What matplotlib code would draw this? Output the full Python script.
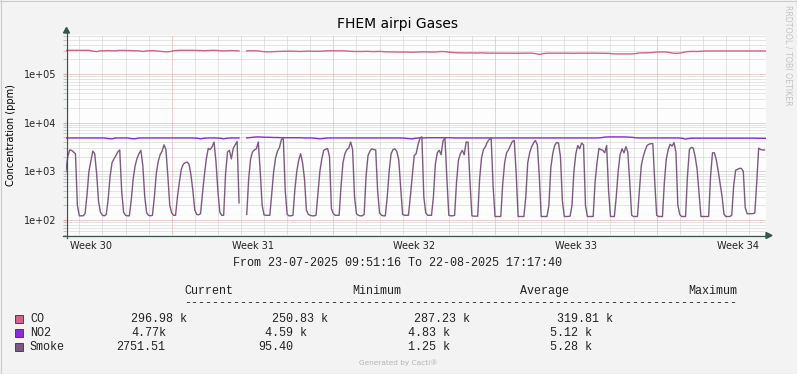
import datetime as dt
import numpy as np
import pandas as pd
import matplotlib
matplotlib.use('Agg')
import matplotlib.pyplot as plt
from matplotlib.lines import Line2D
from matplotlib.patches import Polygon, Rectangle

nan = np.nan

# --- data --------------------------------------------------------------
# Smoke (ppm), 2h samples, one row per day (first day from 10:00, last day to 16:00)
smoke_rows = [
    [980, 2000, 2750, 2700, 2500, 2300, 200],
    [122, 122, 122, 135, 330, 1000, 1600, 2600, 2300, 900, 240, 145],
    [125, 122, 130, 270, 800, 1500, 1800, 2100, 2500, 2750, 400, 145],
    [125, 122, 122, 260, 700, 1300, 1850, 2300, 2700, 1300, 300, 140],
    [125, 122, 125, 300, 900, 1600, 2200, 2600, 3500, 2800, 800, 200],
    [140, 125, 125, 300, 600, 1100, 1400, 1500, 1550, 1400, 850, 400],
    [160, 130, 128, 135, 350, 850, 1800, 2950, 2800, 3200, 4000, 1600],
    [400, 145, 125, 125, 900, 2500, 2700, 1800, 3000, 3500, 4100, 225],
    [nan, nan, nan, 130, 700, 1800, 2500, 2750, 2900, 4000, 1000, 200],
    [127, 125, 125, 125, 350, 1000, 1900, 2600, 3100, 4500, 4700, 400],
    [130, 122, 122, 125, 420, 1000, 1700, 2300, 1500, 700, 160, 130],
    [125, 122, 122, 125, 350, 1000, 1800, 2700, 2850, 2950, 2000, 170],
    [135, 125, 125, 125, 500, 1500, 2300, 2800, 3000, 4000, 2800, 300],
    [135, 125, 122, 122, 130, 800, 2100, 2600, 2900, 2800, 2750, 400],
    [140, 125, 122, 122, 300, 1000, 2300, 2800, 2900, 2550, 1700, 450],
    [130, 125, 125, 125, 300, 800, 2100, 2300, 3500, 4800, 5100, 300],
    [140, 125, 125, 125, 300, 1400, 2400, 2700, 2200, 4300, 4800, 700],
    [125, 122, 122, 125, 600, 1700, 2300, 2700, 2200, 4000, 4000, 600],
    [122, 120, 120, 120, 700, 1900, 2800, 3200, 4000, 4500, 4800, 500],
    [118, 118, 118, 118, 550, 1500, 2400, 2750, 3400, 4100, 4300, 900],
    [118, 118, 118, 118, 300, 1500, 2400, 3200, 3800, 4300, 3500, 800],
    [118, 118, 118, 118, 200, 1200, 2300, 3400, 3900, 3800, 2000, 250],
    [118, 118, 118, 120, 200, 1000, 2300, 3400, 2900, 3800, 3500, 200],
    [118, 118, 118, 118, 600, 1500, 2950, 2800, 2700, 2400, 3400, 400],
    [118, 118, 118, 300, 1000, 2200, 2900, 2400, 3200, 2500, 600, 125],
    [118, 118, 118, 400, 1300, 2000, 2700, 3400, 3600, 3700, 3700, 600],
    [125, 118, 118, 118, 600, 1800, 2800, 3600, 3300, 3900, 2500, 200],
    [130, 118, 118, 118, 800, 2800, 3100, 3000, 2000, 1100, 350, 118],
    [118, 118, 118, 118, 800, 2400, 2400, 1700, 1000, 550, 300, 130],
    [118, 118, 118, 125, 500, 1050, 1100, 1150, 1150, 1000, 180, 135],
    [135, 135, 135, 140, 600, 3000, 2800, 2750, 2750],
]

# CO (k ppm), 4h samples
co_rows = [
    [306, 306, 306, 305],
    [306, 306, 306, 295, 288, 300],
    [300, 302, 300, 300, 305, 305],
    [303, 300, 300, 298, 290, 298],
    [300, 300, 295, 290, 285, 288],
    [300, 305, 307, 307, 306, 306],
    [305, 303, 300, 303, 306, 305],
    [300, 298, 300, 302, 300, 298],
    [nan, 298, 300, 300, 298, 290],
    [285, 285, 288, 290, 292, 295],
    [295, 293, 290, 290, 293, 295],
    [293, 292, 293, 296, 300, 300],
    [300, 298, 300, 296, 292, 290],
    [290, 290, 292, 290, 288, 290],
    [290, 285, 285, 283, 282, 283],
    [283, 282, 280, 282, 283, 285],
    [283, 282, 283, 288, 290, 285],
    [278, 275, 272, 272, 270, 272],
    [270, 270, 272, 270, 268, 268],
    [268, 267, 267, 268, 267, 266],
    [267, 267, 268, 267, 262, 252],
    [262, 267, 268, 267, 267, 268],
    [268, 267, 266, 268, 267, 267],
    [268, 268, 267, 267, 266, 265],
    [260, 258, 258, 257, 258, 258],
    [262, 270, 272, 272, 274, 280],
    [283, 284, 283, 275, 266, 266],
    [272, 285, 290, 291, 290, 292],
    [296, 297, 297, 297, 297, 297],
    [297, 297, 297, 297, 297, 297],
    [297, 297, 297, 297, 297],
]

# NO2 (k ppm), 4h samples
no2_rows = [
    [4.85, 4.85, 4.85, 4.85],
    [4.85, 4.85, 4.85, 4.85, 4.85, 4.85],
    [4.85, 4.70, 4.65, 4.85, 4.85, 4.85],
    [4.85, 4.70, 4.65, 4.85, 4.85, 4.85],
    [4.85, 4.85, 4.85, 4.85, 4.85, 4.85],
    [4.85, 4.85, 4.85, 4.85, 4.85, 4.85],
    [4.80, 4.65, 4.80, 4.85, 4.85, 4.85],
    [4.80, 4.65, 4.80, 4.85, 4.85, 4.85],
    [nan, 4.85, 4.95, 5.05, 5.10, 5.05],
    [5.00, 5.00, 4.95, 4.95, 4.90, 4.90],
    [4.90, 4.90, 4.90, 4.90, 4.85, 4.85],
    [4.85, 4.75, 4.65, 4.75, 4.85, 4.85],
    [4.85, 4.85, 4.85, 4.85, 4.85, 4.85],
    [4.85, 4.85, 4.85, 4.85, 4.85, 4.85],
    [4.85, 4.85, 4.85, 4.85, 4.85, 4.85],
    [4.80, 4.70, 4.65, 4.80, 4.85, 4.85],
    [4.90, 4.90, 4.90, 4.90, 4.90, 4.90],
    [4.90, 4.85, 4.85, 4.85, 4.85, 4.85],
    [4.85, 4.85, 4.85, 4.85, 4.85, 4.85],
    [4.85, 4.85, 4.85, 4.85, 4.85, 4.85],
    [4.85, 4.85, 4.85, 4.85, 4.85, 4.85],
    [4.85, 4.85, 4.85, 4.85, 4.85, 4.85],
    [4.85, 4.85, 4.85, 4.85, 4.85, 4.85],
    [4.85, 4.85, 4.85, 4.90, 5.05, 5.10],
    [5.10, 5.10, 5.10, 5.10, 5.05, 5.00],
    [4.90, 4.85, 4.85, 4.85, 4.85, 4.85],
    [4.85, 4.85, 4.85, 4.85, 4.85, 4.85],
    [4.80, 4.60, 4.75, 4.80, 4.80, 4.80],
    [4.80, 4.80, 4.80, 4.80, 4.80, 4.80],
    [4.80, 4.80, 4.80, 4.80, 4.80, 4.80],
    [4.80, 4.80, 4.77, 4.77, 4.77],
]

series_names = ['CO', 'NO2', 'Smoke']
series_colors = ['#cf6488', '#8a2bd6', '#7c5a80']
cur_txt = ['296.98 k', '4.77k', '2751.51']
min_txt = ['250.83 k', '4.59 k', '95.40']
avg_txt = ['287.23 k', '4.83 k', '1.25 k']
max_txt = ['319.81 k', '5.12 k', '5.28 k']

t_start = pd.Timestamp('2025-07-23 09:51:16')
t_end = pd.Timestamp('2025-08-22 17:17:40')
weeks = [30, 31, 32, 33, 34]

smoke = np.concatenate([np.array(r, float) for r in smoke_rows])
co = np.concatenate([np.array(r, float) for r in co_rows]) * 1000
no2 = np.concatenate([np.array(r, float) for r in no2_rows]) * 1000
smoke_t = pd.date_range('2025-07-23 10:00', periods=len(smoke), freq='2h')
gas_t = pd.date_range('2025-07-23 10:00', periods=len(co), freq='4h')

# --- figure -------------------------------------------------------------
W, H = 797, 374
fx = lambda x: x / W
fy = lambda y: 1 - y / H

fig = plt.figure(figsize=(W / 100, H / 100), dpi=100, facecolor='#f3f3f3')
ax = fig.add_axes([fx(65.7), fy(235), 700 / W, 200 / H])
ax.set_facecolor('#fdfdfd')
for s in ax.spines.values():
    s.set_visible(False)

ax.set_yscale('log')
ylo, yhi = 49.2, 632000
ax.set_ylim(ylo, yhi)
ax.set_xlim(t_start, t_end)

# grid, dotted like rrdtool
grey, red = '#cdcdcd', '#e4a0a0'
for d in pd.date_range('2025-07-24', '2025-08-22', freq='D'):
    ax.axvline(d, color=red if d.dayofweek == 0 else grey, lw=0.72, ls=(0, (1, 1)), zorder=1)
for e in range(1, 6):
    for m in range(1, 10):
        v = m * 10 ** e
        if ylo < v < yhi:
            ax.axhline(v, color=red if m == 1 else grey, lw=0.72, ls=(0, (1, 1)), zorder=1)

ax.plot(gas_t, co, color=series_colors[0], lw=1.0, zorder=3)
ax.plot(gas_t, no2, color=series_colors[1], lw=1.0, zorder=3)
ax.plot(smoke_t, smoke, color=series_colors[2], lw=1.0, zorder=3)

ax.set_yticks([1e2, 1e3, 1e4, 1e5], labels=['1e+02', '1e+03', '1e+04', '1e+05'])
ax.yaxis.set_minor_locator(matplotlib.ticker.LogLocator(subs=np.arange(2, 10)))
ax.yaxis.set_minor_formatter(matplotlib.ticker.NullFormatter())
ax.tick_params(axis='y', which='major', length=2, color='#e4a0a0', pad=5, labelsize=7,
               labelcolor='#222222')
ax.tick_params(axis='y', which='minor', length=2, color='#bbbbbb')
week_pos = [pd.Timestamp(dt.date.fromisocalendar(2025, w, 4)) + pd.Timedelta(hours=12) for w in weeks]
ax.set_xticks(week_pos, labels=['Week %d' % w for w in weeks])
ax.xaxis.set_minor_locator(matplotlib.ticker.NullLocator())
ax.tick_params(axis='x', length=0, pad=4, labelsize=7, labelcolor='#222222')

# axes with arrows
axc = '#37564e'
fig.add_artist(Line2D([fx(66.5), fx(66.5)], [fy(238), fy(33)], color=axc, lw=0.9))
fig.add_artist(Line2D([fx(63), fx(767)], [fy(235.5), fy(235.5)], color=axc, lw=0.9))
fig.add_artist(Polygon([[fx(63.5), fy(33)], [fx(69.5), fy(33)], [fx(66.5), fy(27.5)]], color=axc))
fig.add_artist(Polygon([[fx(766), fy(232.5)], [fx(766), fy(238.5)], [fx(772), fy(235.5)]], color=axc))

# texts
fig.text(fx(397.5), fy(28.3), 'FHEM airpi Gases', ha='center', va='baseline', fontsize=10)
fig.text(fx(11), fy(135.5), 'Concentration (ppm)', rotation=90, ha='center', va='center', fontsize=7)
fig.text(fx(788), fy(5), 'RRDTOOL / TOBI OETIKER', rotation=270, ha='center', va='top',
         fontsize=5.7, color='#c4c4c4')

mono = dict(family='Liberation Mono', fontsize=8.5, va='center', color='#222222')
fig.text(fx(233), fy(263.3), 'From %s To %s' % (t_start.strftime('%d-%m-%Y %H:%M:%S'),
                                                 t_end.strftime('%d-%m-%Y %H:%M:%S')), **mono)
for label, x in [('Current', 184), ('Minimum', 352), ('Average', 520), ('Maximum', 688)]:
    fig.text(fx(x), fy(290.7), label, **mono)
fig.text(fx(184), fy(303.3), '-' * 79, **mono)

row_y = [319.3, 332.7, 347]
for i, name in enumerate(series_names):
    y = row_y[i]
    fig.add_artist(Rectangle((fx(15), fy(y + 4)), 8 / W, 8 / H, facecolor=series_colors[i],
                             edgecolor='#2f4f4f', lw=0.7))
    fig.text(fx(30), fy(y), name, **mono)
fig.text(fx(131), fy(row_y[0]), cur_txt[0], **mono)
fig.text(fx(272), fy(row_y[0]), min_txt[0], **mono)
fig.text(fx(414), fy(row_y[0]), avg_txt[0], **mono)
fig.text(fx(557), fy(row_y[0]), max_txt[0], **mono)
fig.text(fx(131), fy(row_y[1]), cur_txt[1], **mono)
fig.text(fx(265), fy(row_y[1]), min_txt[1], **mono)
fig.text(fx(408), fy(row_y[1]), avg_txt[1], **mono)
fig.text(fx(550), fy(row_y[1]), max_txt[1], **mono)
fig.text(fx(116), fy(row_y[2]), cur_txt[2], **mono)
fig.text(fx(258), fy(row_y[2]), min_txt[2], **mono)
fig.text(fx(408), fy(row_y[2]), avg_txt[2], **mono)
fig.text(fx(550), fy(row_y[2]), max_txt[2], **mono)

fig.text(fx(398.5), fy(363), 'Generated by Cacti®', ha='center', va='center', fontsize=5.3,
         color='#b4b4b4')

# frame
fig.add_artist(Line2D([0, 1], [fy(0.5), fy(0.5)], color='#cccccc', lw=0.8))
fig.add_artist(Line2D([fx(0.5), fx(0.5)], [0, 1], color='#cccccc', lw=0.8))
fig.add_artist(Line2D([0, 1], [fy(373.5), fy(373.5)], color='#9a9a9a', lw=0.8))
fig.add_artist(Line2D([fx(796.5), fx(796.5)], [0, 1], color='#9a9a9a', lw=0.8))

fig.savefig('out.png', dpi=100, facecolor=fig.get_facecolor())
